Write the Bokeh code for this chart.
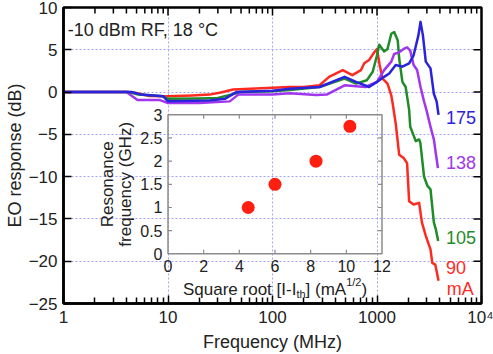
import math
from bokeh.plotting import figure
from bokeh.models import (Range1d, LinearScale, FixedTicker, BasicTickFormatter)
from bokeh.embed import file_html
from bokeh.resources import INLINE
from bokeh.core.properties import value

FONT = "Liberation Sans"
TXT = "#222222"

# ---------------- data ----------------
freq_90 = [1, 4.0, 5.0, 6.5, 10, 17, 25, 32, 42, 100, 146, 200, 282, 348, 470, 580,
           703, 755, 840, 940, 1000, 1060, 1130, 1260, 1370, 1410, 1510, 1630, 1800,
           1940, 2030, 2240, 2530, 2690, 2930, 3250, 3380, 3610, 3880]
eo_90 = [0, 0, -0.1, -0.45, -0.5, -0.4, -0.3, -0.05, 0.3, 0.5, 0.6, 0.6, 0.8, 1.8, 2.6, 2.0,
         2.6, 3.4, 3.8, 4.7, 5.1, 3.2, 1.6, 1.0, -0.4, -1.3, -3.7, -7.4, -7.8,
         -8.4, -12.9, -13.3, -13.1, -15.4, -17.0, -18.6, -20.2, -20.4, -22.3]

freq_105 = [1, 4.2, 5.2, 9, 10, 20, 30, 40, 50, 100, 146, 282, 490, 630, 800, 910, 1000,
            1050, 1170, 1260, 1370, 1460, 1580, 1630, 1750, 1880, 2030, 2080, 2350, 2530,
            2600, 2820, 3040, 3250, 3500, 3650, 3850]
eo_105 = [0, 0, -0.3, -0.5, -0.8, -0.75, -0.7, -0.3, 0, 0.1, 0.25, 0.6, 1.6, 1.0, 1.4, 2.4, 4.35,
          5.6, 4.8, 5.1, 6.9, 7.1, 6.1, 4.0, 1.2, 0.6, -2.1, -4.1, -5.8, -5.6,
          -6.0, -10.0, -11.1, -11.5, -15.4, -16.2, -17.6]

freq_138 = [1, 4.0, 5.1, 8.4, 10, 20, 39, 47, 100, 146, 262, 330, 490, 775, 1000, 1170,
            1370, 1460, 1630, 1800, 1940, 2080, 2240, 2420, 2610, 2820, 2970, 3250, 3500,
            3650, 3830]
eo_138 = [0, 0, -0.95, -0.95, -1.3, -1.3, -1.1, -0.3, -0.3, -0.15, -0.35, -0.3, 0.8, 0.6, 1.2, 2.6,
          3.6, 4.5, 4.7, 5.1, 5.3, 4.9, 3.2, 2.6, 0.6, -1.1, -2.1, -4.1, -5.6,
          -7.2, -9.0]

freq_175 = [1, 4.5, 5.5, 9, 10, 25, 35, 45, 100, 146, 282, 490, 630, 840, 1000, 1170, 1310,
            1510, 1750, 2030, 2240, 2490, 2610, 2750, 2930, 3250, 3500, 3720, 3880]
eo_175 = [0, 0, -0.3, -0.5, -1.1, -1.0, -0.8, 0, 0.15, 0.4, 0.6, 1.8, 1.2, 0.6, 1.2, 1.8, 2.2,
          3.2, 3.0, 3.4, 4.35, 6.7, 8.3, 6.7, 3.6, 2.8, -0.2, -1.1, -2.7]

series_names = ["90", "105", "138", "175"]
series_colors = ["#ff2a1f", "#1f8c28", "#a036ee", "#2a22dd"]

# inset data
sqrt_current = [4.5, 6.0, 8.3, 10.2]
resonance_ghz = [1.0, 1.5, 2.0, 2.75]

x_ticks = [1, 10, 100, 1000, 10000]
x_tick_labels = ["1", "10", "100", "1000", "10\u2074"]
y_ticks = [-25, -20, -15, -10, -5, 0, 5, 10]
inset_x_ticks = [0, 2, 4, 6, 8, 10, 12]
inset_y_ticks = [0, 0.5, 1, 1.5, 2, 2.5, 3]
inset_y_labels = ["0", "0.5", "1", "1.5", "2", "2.5", "3"]

# ---------------- figure ----------------
p = figure(width=493, height=354, x_axis_type="log", x_range=Range1d(1, 1e4),
           y_range=Range1d(-25, 10), output_backend="svg", toolbar_location=None,
           min_border_left=63, min_border_right=12, min_border_top=7, min_border_bottom=49,
           background_fill_color="white", border_fill_color="white")

p.extra_x_ranges = {"inset": Range1d(-5.86, 17.58)}
p.extra_x_scales = {"inset": LinearScale()}
p.extra_y_ranges = {"inset": Range1d(-1.071, 5.314)}
p.extra_y_scales = {"inset": LinearScale()}

minor = [m * 10 ** d for d in range(4) for m in range(2, 10)]
xticker = FixedTicker(ticks=x_ticks, minor_ticks=minor)
yticker = FixedTicker(ticks=y_ticks, minor_ticks=[])


def style_axis(ax):
    ax.axis_line_color = "black"
    ax.axis_line_width = 2.5
    ax.major_tick_line_color = "black"
    ax.major_tick_line_width = 1.5
    ax.minor_tick_line_color = "black"
    ax.minor_tick_line_width = 1.5
    ax.major_tick_in = 8
    ax.major_tick_out = 0
    ax.minor_tick_in = 6
    ax.minor_tick_out = 0
    ax.major_label_text_font = FONT
    ax.major_label_text_font_size = "17px"
    ax.major_label_text_color = TXT
    ax.axis_label_text_font = FONT
    ax.axis_label_text_font_size = "18px"
    ax.axis_label_text_font_style = "normal"
    ax.axis_label_text_color = TXT


xa = p.xaxis[0]
xa.ticker = xticker
xa.formatter = BasicTickFormatter(use_scientific=False)
xa.major_label_overrides = {t: s for t, s in zip(x_ticks, x_tick_labels)}
xa.axis_label = "Frequency (MHz)"
style_axis(xa)
xa.major_label_standoff = 4
xa.axis_label_standoff = 2

ya = p.yaxis[0]
ya.ticker = yticker
ya.axis_label = "EO response (dB)"
style_axis(ya)
ya.major_label_standoff = 6
ya.axis_label_standoff = 1
ya.minor_tick_in = 0

p.outline_line_color = "black"
p.outline_line_width = 2.5

# mirror ticks on the top and right frame edges
mk = dict(length_units="screen", line_color="black", line_width=1.5)
p.ray(x=x_ticks[1:-1], y=[y_ticks[-1]] * 3, angle=-math.pi / 2, length=8, **mk)
p.ray(x=minor, y=[y_ticks[-1]] * len(minor), angle=-math.pi / 2, length=6, **mk)
p.ray(x=[x_ticks[-1]] * (len(y_ticks) - 2), y=y_ticks[1:-1], angle=math.pi, length=8, **mk)

p.xgrid.ticker = FixedTicker(ticks=[10, 100, 1000])
p.ygrid.ticker = FixedTicker(ticks=[-20, -15, -10, -5, 0, 5])
for g in (p.xgrid[0], p.ygrid[0]):
    g.grid_line_color = "#a3a3f7"
    g.grid_line_dash = "2 2"
    g.grid_line_width = 1

# ---------------- inset ----------------
p.quad(left=[inset_x_ticks[0]], right=[inset_x_ticks[-1]], bottom=[inset_y_ticks[0]],
       top=[inset_y_ticks[-1]], fill_color=None, line_color="#8c8c8c", line_width=1.5,
       x_range_name="inset", y_range_name="inset")
ix_inner = inset_x_ticks[1:-1]
iy_inner = inset_y_ticks[1:-1]
tick_kw = dict(length=4, length_units="screen", line_color="#8c8c8c", line_width=1.2,
               x_range_name="inset", y_range_name="inset")
p.ray(x=ix_inner, y=[inset_y_ticks[0]] * len(ix_inner), angle=math.pi / 2, **tick_kw)
p.ray(x=ix_inner, y=[inset_y_ticks[-1]] * len(ix_inner), angle=-math.pi / 2, **tick_kw)
p.ray(x=[inset_x_ticks[0]] * len(iy_inner), y=iy_inner, angle=0, **tick_kw)
p.ray(x=[inset_x_ticks[-1]] * len(iy_inner), y=iy_inner, angle=math.pi, **tick_kw)

p.text(x=inset_x_ticks, y=[-0.26] * len(inset_x_ticks), text=[str(t) for t in inset_x_ticks],
       text_font=value(FONT), text_font_size="16px", text_color=TXT,
       text_align="center", text_baseline="middle",
       x_range_name="inset", y_range_name="inset")
p.text(x=[-0.31] * len(inset_y_ticks), y=inset_y_ticks, text=inset_y_labels,
       text_font=value(FONT), text_font_size="16px", text_color=TXT,
       text_align="right", text_baseline="middle",
       x_range_name="inset", y_range_name="inset")

p.text(x=[-3.39, -2.38], y=[1.5, 1.5], text=["Resonance", "frequency (GHz)"],
       angle=math.pi / 2, text_font=value(FONT), text_font_size="17px", text_color=TXT,
       text_align="center", text_baseline="middle",
       x_range_name="inset", y_range_name="inset")

# inset x title with subscript / superscript pieces
p.text(x=[6, 6, 6], y=[-0.771, -0.771, -0.771], x_offset=[-92, 30.6, 86.5],
       text=["Square root [I-I", "] (mA", ")"],
       text_font=value(FONT), text_font_size="17px", text_color=TXT,
       text_align="left", text_baseline="alphabetic",
       x_range_name="inset", y_range_name="inset")
p.text(x=[6, 6], y=[-0.857, -0.60], x_offset=[21.4, 71.2], text=["th", "1/2"],
       text_font=value(FONT), text_font_size="11px", text_color=TXT,
       text_align="left", text_baseline="alphabetic",
       x_range_name="inset", y_range_name="inset")

p.scatter(sqrt_current, resonance_ghz, size=13, fill_color="#ff1f10", line_color=None,
          x_range_name="inset", y_range_name="inset")

# ---------------- curves ----------------
curves = [(freq_90, eo_90), (freq_105, eo_105), (freq_138, eo_138), (freq_175, eo_175)]
for (fx, fy), col in zip(curves, series_colors):
    p.line(fx, fy, line_color=col, line_width=2.5, line_join="round")

# ---------------- annotations ----------------
p.text(x=[1.1], y=[7.3], text=["-10 dBm RF, 18 \u00b0C"], text_font=value(FONT),
       text_font_size="18px", text_color=TXT, text_baseline="middle", text_align="left")

label_y = [-20.7, -17.2, -8.35, -3.06]
p.text(x=[4570] * 4, y=label_y, text=series_names, text_font=value(FONT),
       text_font_size="18px", text_color=series_colors, text_baseline="middle",
       text_align="left")
p.text(x=[4650], y=[-23.3], text=["mA"], text_font=value(FONT),
       text_font_size="18px", text_color=series_colors[0], text_baseline="middle",
       text_align="left")

open("out.html", "w").write(file_html(p, INLINE))
